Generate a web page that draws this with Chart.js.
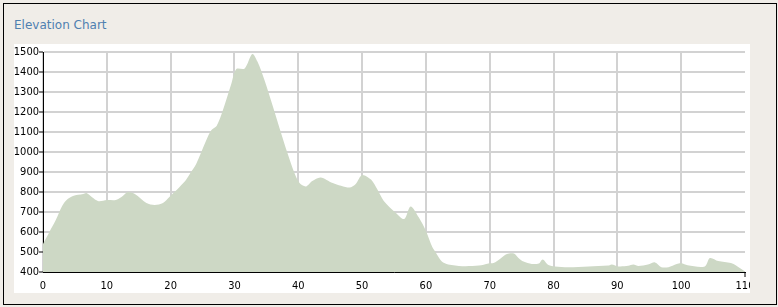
<!DOCTYPE html>
<html>
<head>
<meta charset="utf-8">
<title>Elevation Chart</title>
<script src="https://cdn.jsdelivr.net/npm/chart.js@4.4.1/dist/chart.umd.min.js"></script>
<style>
    html, body {
        margin: 0;
        padding: 0;
        background: #f0ede8;
    }
    #panel {
        position: absolute;
        left: 3px;
        top: 3px;
        width: 772px;
        height: 300px;
        border: 1px solid #000;
        background: #f0ede8;
    }
    #title {
        position: absolute;
        left: 10px;
        top: 14px;
        font-family: "DejaVu Sans", sans-serif;
        font-size: 12px;
        color: #4f80b0;
    }
    #chartBox {
        position: absolute;
        left: 10px;
        top: 40px;
        width: 736px;
        height: 249px;
        background: #fff;
    }
</style>
</head>
<body>
<div id="panel">
    <div id="title">Elevation Chart</div>
    <div id="chartBox"><canvas id="elevationChart" width="736" height="249"></canvas></div>
</div>
<script>
// distance along the route and elevation
const distance = [0, 1, 2, 3, 3.7, 4.7, 6.3, 6.8, 8.6, 10, 11.4, 12.3, 13.3, 14.4, 16.2, 17.5, 18.8,
    19.8, 21.4, 22.4, 23, 24, 25.6, 26.4, 27.2, 28.2, 29.5, 30.3, 31.6, 32.8, 33.6, 34.7, 36,
    37.3, 38.3, 39.4, 40.2, 41.2, 42.2, 43.5, 45.4, 48, 49, 50, 51.4, 52.4, 53.4, 55.3, 56.6,
    57.6, 58.9, 60, 61, 61.5, 62.5, 63.5, 65.7, 68.3, 69.8, 70.6, 71.7, 72.7, 73.8, 74.5, 75.3,
    76.6, 77.7, 78.3, 79.2, 80.2, 82.3, 85.5, 88.6, 89.1, 90.2, 91.7, 92.5, 93.3, 94.8, 95.9,
    96.9, 98, 99.3, 100, 101, 103.7, 104.5, 105.8, 107.8, 108.6, 110];
const elevation = [540, 600, 660, 730, 760, 780, 790, 795, 755, 760, 760, 775, 800, 790, 745, 735, 745,
    775, 825, 860, 890, 940, 1060, 1110, 1130, 1210, 1340, 1415, 1418, 1490, 1452, 1360, 1230,
    1095, 995, 895, 845, 828, 855, 873, 845, 822, 840, 885, 862, 812, 755, 695, 665,
    728, 672, 605, 525, 500, 452, 437, 429, 432, 443, 445, 468, 490, 492, 470, 452,
    440, 443, 463, 435, 428, 424, 428, 432, 438, 428, 431, 437, 430, 437, 448,
    424, 424, 440, 444, 434, 428, 470, 455, 445, 432, 402];

const yTicks = [400, 500, 600, 700, 800, 900, 1000, 1100, 1200, 1300, 1400, 1500];
const xTicks = [0, 10, 20, 30, 40, 50, 60, 70, 80, 90, 100, 110];

const points = distance.map((d, i) => ({ x: d, y: elevation[i] }));

const tickFont = { family: "'DejaVu Sans Condensed', 'Liberation Sans', sans-serif", size: 11 };

// axes are pinned so the plot area matches the original
function pinWidth(w) {
    return scale => {
        scale.width = w;
        scale.paddingTop = 0;
        scale.paddingBottom = 0;
    };
}
function pinHeight(h) {
    return scale => {
        scale.height = h;
        scale.paddingLeft = 0;
        scale.paddingRight = 0;
    };
}

const ctx = document.getElementById('elevationChart').getContext('2d');
new Chart(ctx, {
    type: 'line',
    data: {
        datasets: [{
            data: points,
            fill: 'start',
            backgroundColor: '#cdd8c5',
            borderWidth: 0,
            borderColor: 'rgba(0,0,0,0)',
            pointRadius: 0,
            tension: 0.3
        }]
    },
    options: {
        responsive: false,
        animation: false,
        events: [],
        layout: {
            padding: { top: 8, right: 5, left: 0, bottom: 0 }
        },
        plugins: {
            legend: { display: false },
            tooltip: { enabled: false },
            title: { display: false }
        },
        scales: {
            x: {
                type: 'linear',
                min: 0,
                max: 110,
                afterFit: pinHeight(21),
                afterBuildTicks: scale => {
                    scale.ticks = xTicks.map(v => ({ value: v }));
                },
                border: { color: '#000', width: 1 },
                grid: {
                    color: c => (c.tick && c.tick.value === 110) ? 'rgba(0,0,0,0)' : '#d2d2d2',
                    lineWidth: 2,
                    tickLength: 5,
                    tickColor: c => (c.tick && c.tick.value === 110) ? '#000' : 'rgba(0,0,0,0)',
                    tickWidth: 1
                },
                ticks: {
                    maxRotation: 0,
                    autoSkip: false,
                    padding: 3,
                    color: '#000',
                    font: tickFont,
                    callback: v => String(v)
                }
            },
            y: {
                min: 400,
                max: 1500,
                afterFit: pinWidth(29),
                afterBuildTicks: scale => {
                    scale.ticks = yTicks.map(v => ({ value: v }));
                },
                border: { color: '#000', width: 1 },
                grid: {
                    color: '#d2d2d2',
                    lineWidth: 2,
                    tickLength: 4,
                    tickColor: '#000',
                    tickWidth: 1
                },
                ticks: {
                    autoSkip: false,
                    padding: 0,
                    color: '#000',
                    font: tickFont,
                    callback: v => String(v)
                }
            }
        }
    }
});
</script>
</body>
</html>
